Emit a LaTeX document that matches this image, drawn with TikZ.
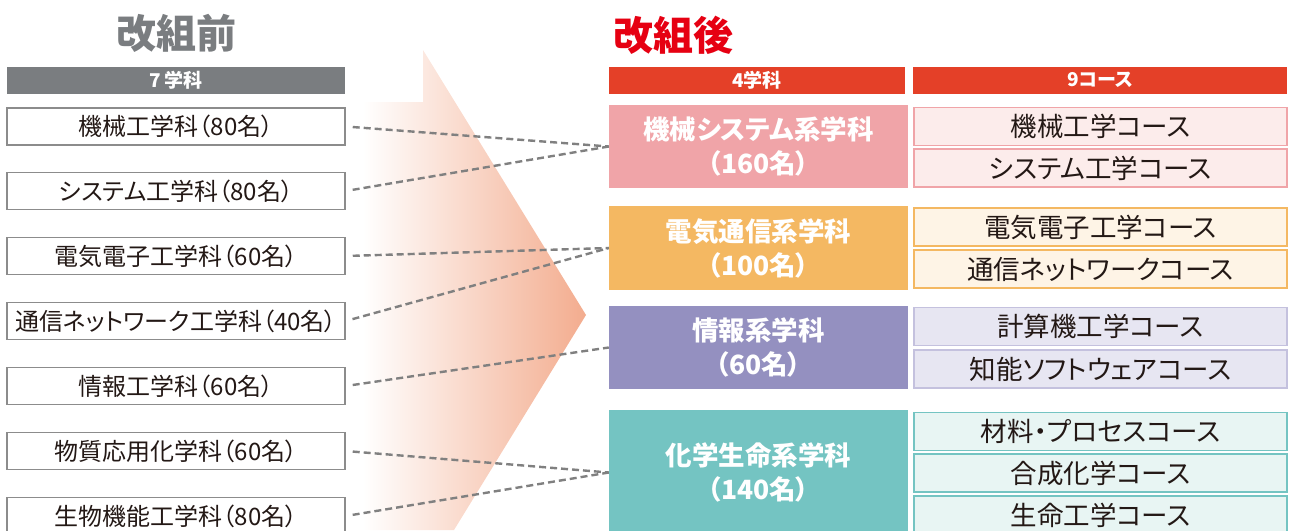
\documentclass[tikz,border=0pt]{standalone}
\usepackage{fontspec}
\newfontfamily\jp[RawFeature=+palt]{Noto Sans CJK JP}
\newfontfamily\jpp{Noto Sans CJK JP}
\definecolor{oldgray}{RGB}{122,125,128}
\definecolor{linegray}{RGB}{128,128,128}
\definecolor{boxgray}{RGB}{140,140,140}
\definecolor{txt}{RGB}{35,24,21}
\definecolor{newred}{RGB}{228,64,40}
\definecolor{titlered}{RGB}{230,0,18}
\definecolor{arrowc}{RGB}{243,172,142}
\definecolor{mechc}{RGB}{240,164,168}
\definecolor{mechl}{RGB}{252,236,235}
\definecolor{elecc}{RGB}{244,184,98}
\definecolor{elecl}{RGB}{254,244,230}
\definecolor{infoc}{RGB}{148,144,192}
\definecolor{infob}{RGB}{196,193,222}
\definecolor{infol}{RGB}{231,230,242}
\definecolor{chemc}{RGB}{116,196,194}
\definecolor{cheml}{RGB}{232,245,243}
\begin{document}
\begin{tikzpicture}[x=1pt,y=-1pt]
        \useasboundingbox (0,0) rectangle (1289,530);
        \tikzstyle{every node}=[inner sep=0pt];
        \tikzstyle{title}=[font=\jpp\bfseries\fontsize{40}{42}\selectfont];
        \tikzstyle{head}=[minimum height=27pt,text=white,font=\jp\bfseries\fontsize{19}{21}\selectfont];
        \tikzstyle{old}=[draw=boxgray,line width=1.5pt,minimum width=338pt,minimum height=37pt,text=txt,font=\jp\fontsize{24}{26}\selectfont];
        \tikzstyle{dept}=[minimum width=299pt,text width=290pt,align=center,text=white,font=\jp\bfseries\fontsize{26.5}{34}\selectfont];
        \tikzstyle{course}=[line width=1.5pt,minimum width=373pt,minimum height=38pt,text=txt,font=\jp\fontsize{26.5}{28}\selectfont];
        \tikzstyle{link}=[draw=linegray,line width=2.4pt,dash pattern=on 7pt off 4pt,shorten <=7pt];
        \shade[left color=white,right color=arrowc] (363,102) -- (423,102) -- (423,50) -- (586,315) -- (454,530) -- (363,530) -- cycle;
        \node[title,text=oldgray] (before) at (176,33) {改組前};
        \node[title,text=titlered] (after) at (673,35) {改組後};
        \node[head,fill=oldgray,minimum width=338pt] (h7) at (176,80) {7 学科};
        \node[head,fill=newred,minimum width=296pt] (h4) at (757,80) {4学科};
        \node[head,fill=newred,minimum width=374pt] (h9) at (1100,80) {9コース};
        \node[old] (old1) at (176,126.5) {機械工学科（80名）};
        \node[old] (old2) at (176,191) {システム工学科（80名）};
        \node[old] (old3) at (176,256) {電気電子工学科（60名）};
        \node[old] (old4) at (176,321) {通信ネットワーク工学科（40名）};
        \node[old] (old5) at (176,386) {情報工学科（60名）};
        \node[old] (old6) at (176,451) {物質応用化学科（60名）};
        \node[old] (old7) at (176,516) {生物機能工学科（80名）};
        \node[dept,fill=mechc,minimum height=83pt] (mech) at (758.5,146.5) {機械システム系学科\\（160名）};
        \node[dept,fill=elecc,minimum height=84pt] (elec) at (758.5,248) {電気通信系学科\\（100名）};
        \node[dept,fill=infoc,minimum height=83pt] (info) at (758.5,347.5) {情報系学科\\（60名）};
        \node[dept,fill=chemc,minimum height=125pt] (chem) at (758.5,472.5) {化学生命系学科\\（140名）};
        \node[course,draw=mechc,fill=mechl] (c1) at (1100.5,126.5) {機械工学コース};
        \node[course,draw=mechc,fill=mechl] (c2) at (1100.5,168) {システム工学コース};
        \node[course,draw=elecc,fill=elecl] (c3) at (1100.5,227) {電気電子工学コース};
        \node[course,draw=elecc,fill=elecl] (c4) at (1100.5,269) {通信ネットワークコース};
        \node[course,draw=infob,fill=infol] (c5) at (1100.5,326.5) {計算機工学コース};
        \node[course,draw=infob,fill=infol] (c6) at (1100.5,369) {知能ソフトウェアコース};
        \node[course,draw=chemc,fill=cheml] (c7) at (1100.5,431.5) {材料・プロセスコース};
        \node[course,draw=chemc,fill=cheml] (c8) at (1100.5,473) {合成化学コース};
        \node[course,draw=chemc,fill=cheml] (c9) at (1100.5,515) {生命工学コース};
        \draw[link] (old1.east) -- (mech.west);
        \draw[link] (old2.east) -- (mech.west);
        \draw[link] (old3.east) -- (elec.west);
        \draw[link] (old4.east) -- (elec.west);
        \draw[link] (old5.east) -- (info.west);
        \draw[link] (old6.east) -- (chem.west);
        \draw[link] (old7.east) -- (chem.west);
      \end{tikzpicture}
\end{document}
